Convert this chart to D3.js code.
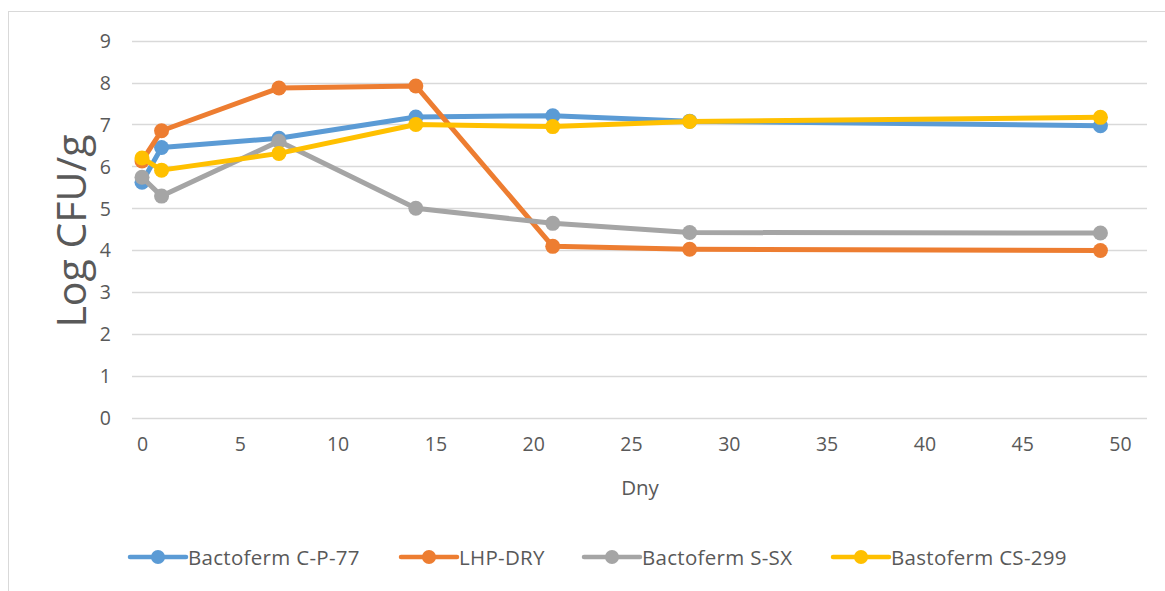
<!DOCTYPE html>
<html><head><meta charset="utf-8">
<script src="https://cdn.jsdelivr.net/npm/d3@7"></script>
<style>body{margin:0;background:#fff}svg{display:block}text{font-family:"Open Sans",sans-serif;fill:#595959}</style>
</head><body>
<script>
const days = [0, 1, 7, 14, 21, 28, 49];
const seriesNames = ["Bactoferm C-P-77", "LHP-DRY", "Bactoferm S-SX", "Bastoferm CS-299"];
const cp77 = [5.62, 6.45, 6.67, 7.18, 7.21, 7.08, 6.97];
const lhpDry = [6.13, 6.85, 7.87, 7.92, 4.09, 4.02, 3.99];
const ssx = [5.74, 5.29, 6.6, 5.0, 4.64, 4.42, 4.41];
const cs299 = [6.2, 5.91, 6.31, 7.0, 6.95, 7.07, 7.17];
const colors = ["#5B9BD5", "#ED7D31", "#A5A5A5", "#FFC000"];
const yTicks = [0,1,2,3,4,5,6,7,8,9];
const xTicks = [0,5,10,15,20,25,30,35,40,45,50];
const xTitle = "Dny", yTitle = "Log CFU/g";
const allSeries = [cp77, lhpDry, ssx, cs299];

const W = 1165, H = 591;
const svg = d3.select("body").append("svg").attr("width", W).attr("height", H);
svg.append("rect").attr("x", 8.5).attr("y", 11.5).attr("width", W + 10).attr("height", H + 10)
  .attr("fill", "none").attr("stroke", "#d9d9d9").attr("stroke-width", 1);

const x = d3.scaleLinear().domain([0, 50]).range([142, 1120]);
const y = d3.scaleLinear().domain([0, 9]).range([417.7, 40.7]);
const gridL = 132, gridR = 1147;

// gridlines
svg.append("g").selectAll("line").data(yTicks).join("line")
  .attr("x1", gridL).attr("x2", gridR).attr("y1", d => Math.round(y(d)) + 0.5).attr("y2", d => Math.round(y(d)) + 0.5)
  .attr("stroke", "#d9d9d9").attr("stroke-width", 1.5);

// y axis labels
const yAxis = d3.axisLeft(y).tickValues(yTicks).tickSize(0).tickPadding(0);
const gy = svg.append("g").attr("transform", "translate(111,0)").call(yAxis);
gy.select(".domain").remove();
gy.selectAll("text").attr("font-size", 19.5).attr("fill", "#595959").attr("font-family", "Open Sans").attr("dy", "0.35em");

// x axis labels
const xAxis = d3.axisBottom(x).tickValues(xTicks).tickSize(0).tickPadding(0);
const gx = svg.append("g").attr("transform", "translate(0,437)").call(xAxis);
gx.select(".domain").remove();
gx.selectAll("text").attr("font-size", 19.5).attr("fill", "#595959").attr("font-family", "Open Sans").attr("dy", "0.71em");

// titles
svg.append("text").attr("x", 640).attr("y", 495).attr("text-anchor", "middle").attr("font-size", 20.5).text(xTitle);
svg.append("text").attr("transform", "translate(86,231) rotate(-90)").attr("text-anchor", "middle").attr("font-size", 41).text(yTitle);

// lines
const line = d3.line().x((d, i) => x(days[i])).y(d => y(d));
allSeries.forEach((s, k) => {
  const g = svg.append("g");
  g.append("path").datum(s).attr("d", line).attr("fill", "none").attr("stroke", colors[k])
    .attr("stroke-width", 5).attr("stroke-linejoin", "round").attr("stroke-linecap", "round");
  g.selectAll("circle").data(s).join("circle")
    .attr("cx", (d, i) => x(days[i])).attr("cy", d => y(d)).attr("r", 7.5).attr("fill", colors[k]);
});

// legend
const legX = [130, 401, 584, 833];
const lg = svg.append("g");
seriesNames.forEach((n, k) => {
  const gx0 = legX[k];
  lg.append("line").attr("x1", gx0).attr("x2", gx0 + 56).attr("y1", 557).attr("y2", 557)
    .attr("stroke", colors[k]).attr("stroke-width", 4.5).attr("stroke-linecap", "round");
  lg.append("circle").attr("cx", gx0 + 28).attr("cy", 557).attr("r", 7).attr("fill", colors[k]);
  lg.append("text").attr("x", gx0 + 58).attr("y", 564.5).attr("font-size", 20.5).attr("letter-spacing", 0.3).text(n);
});
</script>
</body></html>
